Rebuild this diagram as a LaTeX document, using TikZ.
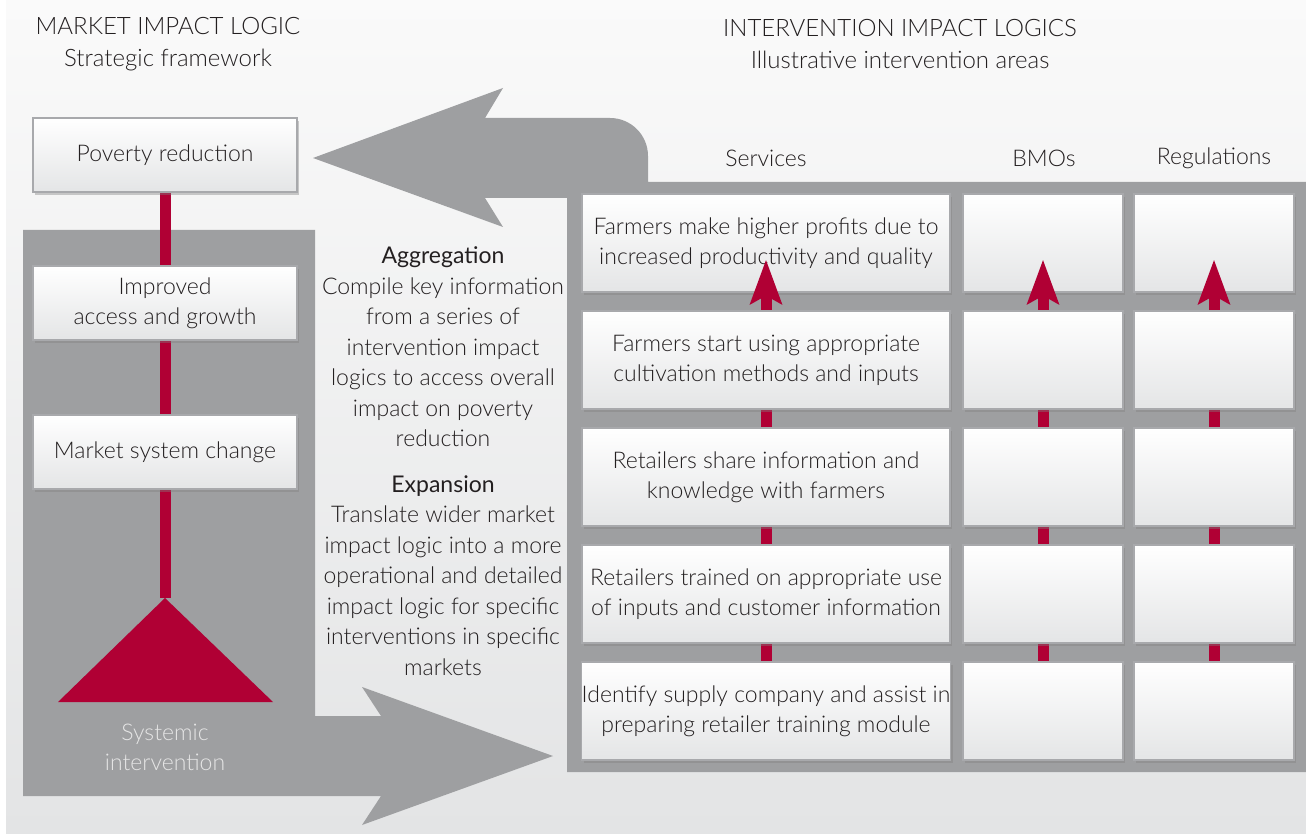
\documentclass[tikz,border=0pt]{standalone}
\usepackage{fontspec}
\setmainfont{Lato}[UprightFont=* Light,BoldFont=*]
\usetikzlibrary{arrows.meta,shadows}
\definecolor{panelgrey}{RGB}{158,159,161}
\definecolor{impred}{RGB}{176,0,52}
\definecolor{boxline}{RGB}{168,169,172}
\definecolor{boxbot}{RGB}{228,229,230}
\definecolor{inktext}{RGB}{35,31,32}
\definecolor{bgtop}{RGB}{250,250,250}
\definecolor{bgbot}{RGB}{227,228,229}
\pgfdeclarelayer{back}
\pgfdeclarelayer{mid}
\pgfsetlayers{back,mid,main}
\begin{document}
\begin{tikzpicture}[x=0.5pt,y=-0.5pt,
  cardbox/.style={draw=boxline,line width=0.6pt,top color=white,bottom color=boxbot,
    drop shadow={shadow xshift=1.2pt,shadow yshift=-1.5pt,opacity=0.4},
    inner sep=0pt,align=center,text=inktext,font=\fontsize{11.5}{15}\selectfont},
  lbox/.style={cardbox,minimum width=132pt,minimum height=37pt},
  wbox/.style={cardbox,minimum width=184pt,minimum height=49pt},
  nbox/.style={cardbox,minimum width=80pt,minimum height=49pt},
  title/.style={align=center,text=inktext,font=\fontsize{12}{16}\selectfont},
  colhead/.style={text=inktext,font=\fontsize{11.5}{15}\selectfont},
  redline/.style={impred,line width=5.5pt},
  redtip/.style={impred,line width=5.5pt,-{Stealth[length=22pt,width=15.5pt,inset=4pt]}}]
  \useasboundingbox (0,0) rectangle (1306,834);
  \begin{pgfonlayer}{back}
    \fill[white] (0,0) rectangle (1306,834);
    \shade[top color=bgtop,bottom color=bgbot] (6,0) rectangle (1306,834);
    % aggregation arrow and right panel
    \fill[panelgrey] (567,772) -- (567,198) -- (485,198) -- (503,227) -- (313,158)
      -- (503,88) -- (485,118) -- (610,118) .. controls (631,118) and (648,135) .. (648,156)
      -- (648,182) -- (1306,182) -- (1306,772) -- cycle;
    % expansion arrow and left panel
    \fill[panelgrey] (23,230) -- (315,230) -- (315,716) -- (381,716) -- (362,687)
      -- (553,756) -- (362,825) -- (381,796) -- (23,796) -- cycle;
  \end{pgfonlayer}

  \node[title] (mtitle) at (168,44) {MARKET IMPACT LOGIC\\Strategic framework};
  \node[title] (ititle) at (900,44) {INTERVENTION IMPACT LOGICS\\Illustrative intervention areas};

  % market impact logic
  \node[lbox] (pov) at (165,155) {Poverty reduction};
  \node[lbox] (imp) at (165,303) {Improved\\access and growth};
  \node[lbox] (msc) at (165,452) {Market system change};
  \coordinate (apex) at (165,598);
  \fill[impred] (apex) -- (58,702) -- (273,702) -- cycle;
  \node[text=white!90!black,align=center,font=\fontsize{11.5}{15}\selectfont] (sysint) at (165,747) {Systemic\\intervention};
  \begin{pgfonlayer}{mid}
    \draw[redline] (pov.south) -- (apex);
  \end{pgfonlayer}

  \node[align=center,text=inktext,font=\fontsize{11.5}{15.25}\selectfont] (midtext) at (443,461)
    {{\fontspec{Lato}Aggregation}\\Compile key information\\from a series of\\intervention impact\\logics to access overall\\impact on poverty\\reduction\\[7.5pt]
     {\fontspec{Lato}Expansion}\\Translate wider market\\impact logic into a more\\operational and detailed\\impact logic for specific\\interventions in specific\\markets};

  % intervention impact logics
  \node[colhead] (hsvc) at (766,158) {Services};
  \node[colhead] (hbmo) at (1044,158) {BMOs};
  \node[colhead] (hreg) at (1214,158) {Regulations};

  \node[wbox] (svc1) at (766,243) {Farmers make higher profits due to\\increased productivity and quality};
  \node[wbox] (svc2) at (766,360) {Farmers start using appropriate\\cultivation methods and inputs};
  \node[wbox] (svc3) at (766,477) {Retailers share information and\\knowledge with farmers};
  \node[wbox] (svc4) at (766,594) {Retailers trained on appropriate use\\of inputs and customer information};
  \node[wbox] (svc5) at (766,711) {Identify supply company and assist in\\preparing retailer training module};
  \foreach \r/\yy in {1/243,2/360,3/477,4/594,5/711} {
    \node[nbox] (bmo\r) at (1043,\yy) {};
    \node[nbox] (reg\r) at (1214,\yy) {};
  }

  \begin{pgfonlayer}{mid}
    \foreach \c in {svc,bmo,reg}
      \draw[redline] (\c5.north) -- (\c1.south);
  \end{pgfonlayer}
  \foreach \c in {svc,bmo,reg}
    \draw[redtip] ([yshift=-6pt]\c1.south) -- ([yshift=16.5pt]\c1.south);
\end{tikzpicture}
\end{document}
